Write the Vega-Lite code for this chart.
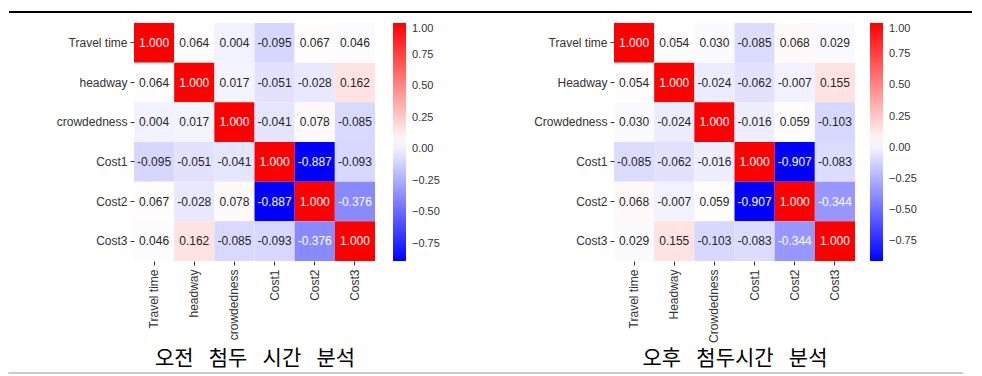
{
  "$schema": "https://vega.github.io/schema/vega-lite/v6.json",
  "padding": {"left": 8, "top": 11, "right": 0, "bottom": 0},
  "background": "white",
  "config": {
    "view": {"stroke": null},
    "font": "Liberation Sans",
    "locale": {"number": {"decimal": ".", "thousands": ",", "grouping": [3], "currency": ["", ""], "minus": "-"}}
  },
  "datasets": {
    "am": [
      {"row": "Travel time", "col": "Travel time", "value": 1.0},
      {"row": "Travel time", "col": "headway", "value": 0.064},
      {"row": "Travel time", "col": "crowdedness", "value": 0.004},
      {"row": "Travel time", "col": "Cost1", "value": -0.095},
      {"row": "Travel time", "col": "Cost2", "value": 0.067},
      {"row": "Travel time", "col": "Cost3", "value": 0.046},
      {"row": "headway", "col": "Travel time", "value": 0.064},
      {"row": "headway", "col": "headway", "value": 1.0},
      {"row": "headway", "col": "crowdedness", "value": 0.017},
      {"row": "headway", "col": "Cost1", "value": -0.051},
      {"row": "headway", "col": "Cost2", "value": -0.028},
      {"row": "headway", "col": "Cost3", "value": 0.162},
      {"row": "crowdedness", "col": "Travel time", "value": 0.004},
      {"row": "crowdedness", "col": "headway", "value": 0.017},
      {"row": "crowdedness", "col": "crowdedness", "value": 1.0},
      {"row": "crowdedness", "col": "Cost1", "value": -0.041},
      {"row": "crowdedness", "col": "Cost2", "value": 0.078},
      {"row": "crowdedness", "col": "Cost3", "value": -0.085},
      {"row": "Cost1", "col": "Travel time", "value": -0.095},
      {"row": "Cost1", "col": "headway", "value": -0.051},
      {"row": "Cost1", "col": "crowdedness", "value": -0.041},
      {"row": "Cost1", "col": "Cost1", "value": 1.0},
      {"row": "Cost1", "col": "Cost2", "value": -0.887},
      {"row": "Cost1", "col": "Cost3", "value": -0.093},
      {"row": "Cost2", "col": "Travel time", "value": 0.067},
      {"row": "Cost2", "col": "headway", "value": -0.028},
      {"row": "Cost2", "col": "crowdedness", "value": 0.078},
      {"row": "Cost2", "col": "Cost1", "value": -0.887},
      {"row": "Cost2", "col": "Cost2", "value": 1.0},
      {"row": "Cost2", "col": "Cost3", "value": -0.376},
      {"row": "Cost3", "col": "Travel time", "value": 0.046},
      {"row": "Cost3", "col": "headway", "value": 0.162},
      {"row": "Cost3", "col": "crowdedness", "value": -0.085},
      {"row": "Cost3", "col": "Cost1", "value": -0.093},
      {"row": "Cost3", "col": "Cost2", "value": -0.376},
      {"row": "Cost3", "col": "Cost3", "value": 1.0}
    ],
    "pm": [
      {"row": "Travel time", "col": "Travel time", "value": 1.0},
      {"row": "Travel time", "col": "Headway", "value": 0.054},
      {"row": "Travel time", "col": "Crowdedness", "value": 0.030},
      {"row": "Travel time", "col": "Cost1", "value": -0.085},
      {"row": "Travel time", "col": "Cost2", "value": 0.068},
      {"row": "Travel time", "col": "Cost3", "value": 0.029},
      {"row": "Headway", "col": "Travel time", "value": 0.054},
      {"row": "Headway", "col": "Headway", "value": 1.0},
      {"row": "Headway", "col": "Crowdedness", "value": -0.024},
      {"row": "Headway", "col": "Cost1", "value": -0.062},
      {"row": "Headway", "col": "Cost2", "value": -0.007},
      {"row": "Headway", "col": "Cost3", "value": 0.155},
      {"row": "Crowdedness", "col": "Travel time", "value": 0.030},
      {"row": "Crowdedness", "col": "Headway", "value": -0.024},
      {"row": "Crowdedness", "col": "Crowdedness", "value": 1.0},
      {"row": "Crowdedness", "col": "Cost1", "value": -0.016},
      {"row": "Crowdedness", "col": "Cost2", "value": 0.059},
      {"row": "Crowdedness", "col": "Cost3", "value": -0.103},
      {"row": "Cost1", "col": "Travel time", "value": -0.085},
      {"row": "Cost1", "col": "Headway", "value": -0.062},
      {"row": "Cost1", "col": "Crowdedness", "value": -0.016},
      {"row": "Cost1", "col": "Cost1", "value": 1.0},
      {"row": "Cost1", "col": "Cost2", "value": -0.907},
      {"row": "Cost1", "col": "Cost3", "value": -0.083},
      {"row": "Cost2", "col": "Travel time", "value": 0.068},
      {"row": "Cost2", "col": "Headway", "value": -0.007},
      {"row": "Cost2", "col": "Crowdedness", "value": 0.059},
      {"row": "Cost2", "col": "Cost1", "value": -0.907},
      {"row": "Cost2", "col": "Cost2", "value": 1.0},
      {"row": "Cost2", "col": "Cost3", "value": -0.344},
      {"row": "Cost3", "col": "Travel time", "value": 0.029},
      {"row": "Cost3", "col": "Headway", "value": 0.155},
      {"row": "Cost3", "col": "Crowdedness", "value": -0.103},
      {"row": "Cost3", "col": "Cost1", "value": -0.083},
      {"row": "Cost3", "col": "Cost2", "value": -0.344},
      {"row": "Cost3", "col": "Cost3", "value": 1.0}
    ]
  },
  "spacing": 3,
  "vconcat": [
    {
      "width": 838, "height": 8,
      "data": {"values": [{"v": 1, "a": -125, "b": 838}]},
      "mark": {"type": "rule", "color": "#000000", "strokeWidth": 2},
      "encoding": {
        "y": {"field": "v", "type": "quantitative", "scale": {"domain": [0, 1]}, "axis": null},
        "x": {"field": "a", "type": "quantitative", "scale": {"domain": [0, 838], "zero": false, "nice": false}, "axis": null},
        "x2": {"field": "b"}
      }
    },
    {
      "spacing": 93,
      "resolve": {"scale": {"color": "independent"}},
      "hconcat": [
        {
          "width": 241, "height": 238,
          "data": {"name": "am"},
          "encoding": {
            "x": {"field": "col", "type": "nominal", "sort": ["Travel time", "headway", "crowdedness", "Cost1", "Cost2", "Cost3"],
              "axis": {"title": "오전\u2002 첨두\u2002 시간\u2002 분석", "labelAngle": -90, "domain": false, "tickSize": 4, "tickColor": "#333333", "labelFontSize": 12, "labelColor": "#333333", "labelPadding": 4, "titleFont": "Noto Sans CJK KR", "titleFontSize": 21, "titleFontWeight": "normal", "titleColor": "#000000", "titlePadding": 8}},
            "y": {"field": "row", "type": "nominal", "sort": ["Travel time", "headway", "crowdedness", "Cost1", "Cost2", "Cost3"],
              "axis": {"title": null, "domain": false, "tickSize": 4, "tickColor": "#333333", "labelFontSize": 12, "labelColor": "#333333", "labelPadding": 3, "minExtent": 126, "maxExtent": 126}}
          },
          "layer": [
            {
              "mark": {"type": "rect"},
              "encoding": {
                "color": {"field": "value", "type": "quantitative",
                  "scale": {"domain": [-0.887, 0.0565, 1], "range": ["#0000ff", "#ffffff", "#ff0000"], "interpolate": "rgb"},
                  "legend": {"title": null, "gradientLength": 238, "gradientThickness": 13, "values": [-0.75, -0.5, -0.25, 0, 0.25, 0.5, 0.75, 1], "labelExpr": "datum.value < 0 ? '−' + format(-datum.value, '.2f') : format(datum.value, '.2f')", "labelFontSize": 11, "labelColor": "#333333", "labelOverlap": false, "offset": 18, "gradientStrokeWidth": 0, "labelOffset": 6}}
              }
            },
            {
              "mark": {"type": "text", "fontSize": 12},
              "encoding": {
                "text": {"field": "value", "type": "quantitative", "format": ".3f"},
                "color": {"condition": {"test": "datum.value > 0.5 || datum.value < -0.3", "value": "#ffffff"}, "value": "#262626"}
              }
            }
          ]
        },
        {
          "width": 241, "height": 238,
          "data": {"name": "pm"},
          "encoding": {
            "x": {"field": "col", "type": "nominal", "sort": ["Travel time", "Headway", "Crowdedness", "Cost1", "Cost2", "Cost3"],
              "axis": {"title": "오후\u2002 첨두시간\u2002 분석", "labelAngle": -90, "domain": false, "tickSize": 4, "tickColor": "#333333", "labelFontSize": 12, "labelColor": "#333333", "labelPadding": 4, "titleFont": "Noto Sans CJK KR", "titleFontSize": 21, "titleFontWeight": "normal", "titleColor": "#000000", "titlePadding": 5}},
            "y": {"field": "row", "type": "nominal", "sort": ["Travel time", "Headway", "Crowdedness", "Cost1", "Cost2", "Cost3"],
              "axis": {"title": null, "domain": false, "tickSize": 4, "tickColor": "#333333", "labelFontSize": 12, "labelColor": "#333333", "labelPadding": 3, "minExtent": 80, "maxExtent": 80}}
          },
          "layer": [
            {
              "mark": {"type": "rect"},
              "encoding": {
                "color": {"field": "value", "type": "quantitative",
                  "scale": {"domain": [-0.907, 0.0465, 1], "range": ["#0000ff", "#ffffff", "#ff0000"], "interpolate": "rgb"},
                  "legend": {"title": null, "gradientLength": 238, "gradientThickness": 13, "values": [-0.75, -0.5, -0.25, 0, 0.25, 0.5, 0.75, 1], "labelExpr": "datum.value < 0 ? '−' + format(-datum.value, '.2f') : format(datum.value, '.2f')", "labelFontSize": 11, "labelColor": "#333333", "labelOverlap": false, "offset": 15, "gradientStrokeWidth": 0, "labelOffset": 6}}
              }
            },
            {
              "mark": {"type": "text", "fontSize": 12},
              "encoding": {
                "text": {"field": "value", "type": "quantitative", "format": ".3f"},
                "color": {"condition": {"test": "datum.value > 0.5 || datum.value < -0.3", "value": "#ffffff"}, "value": "#262626"}
              }
            }
          ]
        }
      ]
    },
    {
      "width": 829, "height": 2,
      "data": {"values": [{"v": 1, "a": -125.5, "b": 829}]},
      "mark": {"type": "rule", "color": "#999999", "strokeWidth": 1},
      "encoding": {
        "y": {"field": "v", "type": "quantitative", "scale": {"domain": [0, 1]}, "axis": null},
        "x": {"field": "a", "type": "quantitative", "scale": {"domain": [0, 829], "zero": false, "nice": false}, "axis": null},
        "x2": {"field": "b"}
      }
    }
  ]
}
